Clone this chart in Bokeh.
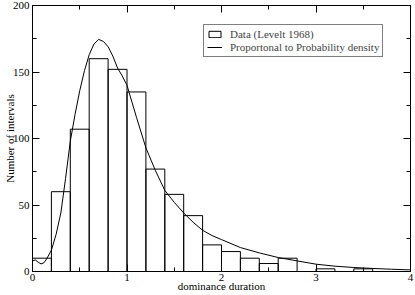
from bokeh.plotting import figure
from bokeh.models import LinearAxis, Range1d, Legend, LegendItem, FixedTicker
from bokeh.embed import file_html
from bokeh.resources import INLINE

# Histogram data (Levelt 1968), bin width 0.2
bin_left = [0.0, 0.2, 0.4, 0.6, 0.8, 1.0, 1.2, 1.4, 1.6, 1.8, 2.0, 2.2, 2.4, 2.6, 2.8, 3.0, 3.2, 3.4]
bin_right = [0.2, 0.4, 0.6, 0.8, 1.0, 1.2, 1.4, 1.6, 1.8, 2.0, 2.2, 2.4, 2.6, 2.8, 3.0, 3.2, 3.4, 3.6]
counts = [10, 60, 107, 160, 152, 135, 77, 58, 42, 20, 15, 10, 6, 10, 0, 2, 0, 2]

# Curve proportional to probability density
curve_x = [0, 0.03, 0.06, 0.09, 0.12, 0.15, 0.2, 0.25, 0.3, 0.35, 0.4, 0.45, 0.5, 0.55,
           0.6, 0.65, 0.7, 0.75, 0.8, 0.85, 0.9, 0.95, 1.0, 1.1, 1.2, 1.3, 1.4, 1.5,
           1.6, 1.7, 1.8, 1.9, 2.0, 2.2, 2.4, 2.6, 2.8, 3.0, 3.2, 3.4, 3.6, 3.8, 4.0]
curve_y = [8, 8.7, 7, 5.7, 6.5, 9.5, 16, 28, 44, 70, 98, 118, 136, 151,
           163, 171, 174.5, 173, 169, 162, 153, 147, 140, 116, 93, 76, 61, 52,
           44, 37, 31, 27, 24, 18, 14, 10.5, 8, 5.5, 4, 3, 2.3, 1.7, 1.2]

x_ticks = [0, 1, 2, 3, 4]
x_minor = [0.5, 1.5, 2.5, 3.5]
y_ticks = [0, 50, 100, 150, 200]
y_minor = [25, 75, 125, 175]
x_title = "dominance duration"
y_title = "Number of intervals"

FONT = "Liberation Serif"

p = figure(width=415, height=295, output_backend="svg", toolbar_location=None,
           x_range=Range1d(0, 4), y_range=Range1d(0, 200),
           min_border_left=32, min_border_right=5, min_border_top=5, min_border_bottom=24,
           x_axis_label=x_title, y_axis_label=y_title)
p.grid.visible = False
p.outline_line_color = "black"
p.outline_line_width = 1

bars = p.quad(left=bin_left, right=bin_right, top=counts, bottom=0,
              fill_color=None, line_color="black", line_width=1)
curve = p.line(curve_x, curve_y, line_color="black", line_width=1)

def style_axis(ax, labels=True):
    ax.major_tick_in = 7
    ax.major_tick_out = 0
    ax.minor_tick_in = 4
    ax.minor_tick_out = 0
    ax.axis_line_color = "black"
    ax.major_tick_line_color = "black"
    ax.minor_tick_line_color = "black"
    ax.major_label_text_font = FONT
    ax.major_label_text_font_size = "11px" if labels else "1px"
    ax.major_label_text_color = "black" if labels else None
    ax.axis_label_text_font = FONT
    ax.axis_label_text_font_size = "11px"
    ax.axis_label_text_font_style = "normal"
    ax.axis_label_text_color = "black"

for ax in p.xaxis:
    ax.ticker = FixedTicker(ticks=x_ticks, minor_ticks=x_minor)
    style_axis(ax)
    ax.major_label_standoff = 2
    ax.axis_label_standoff = -4
for ax in p.yaxis:
    ax.ticker = FixedTicker(ticks=y_ticks, minor_ticks=y_minor)
    style_axis(ax)
    ax.major_label_standoff = 3
    ax.axis_label_standoff = -6

top_ax = LinearAxis(ticker=FixedTicker(ticks=x_ticks, minor_ticks=x_minor))
style_axis(top_ax, labels=False)
top_ax.major_label_standoff = 0
p.add_layout(top_ax, "above")
right_ax = LinearAxis(ticker=FixedTicker(ticks=y_ticks, minor_ticks=y_minor))
style_axis(right_ax, labels=False)
right_ax.major_label_standoff = 0
p.add_layout(right_ax, "right")

legend = Legend(items=[LegendItem(label="Data (Levelt 1968)", renderers=[bars]),
                       LegendItem(label="Proportonal to Probability density", renderers=[curve])],
                location=(171, 214))
legend.label_text_font = FONT
legend.label_text_font_size = "11px"
legend.label_height = 12
legend.glyph_height = 8
legend.glyph_width = 15
legend.label_standoff = 8
legend.spacing = 1
legend.padding = 3
legend.margin = 0
legend.border_line_color = "black"
legend.border_line_width = 1
legend.background_fill_alpha = 1
p.add_layout(legend, "center")

open("out.html", "w").write(file_html(p, INLINE))
